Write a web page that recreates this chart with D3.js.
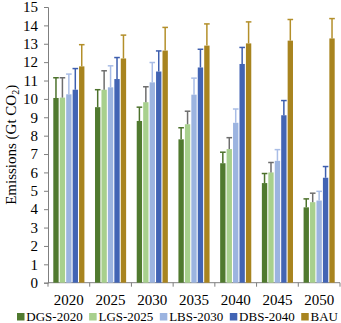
<!DOCTYPE html>
<html>
<head>
<meta charset="utf-8">
<script src="https://cdn.jsdelivr.net/npm/d3@7"></script>
<style>
  body { margin: 0; background: #fff; }
  svg { display: block; font-family: "Liberation Serif", "Times New Roman", serif; }
</style>
</head>
<body>
<div id="chart"></div>
<script>
// data
var years = ['2020', '2025', '2030', '2035', '2040', '2045', '2050'];
var seriesNames = ['DGS-2020', 'LGS-2025', 'LBS-2030', 'DBS-2040', 'BAU'];

var dgs = [10.05, 9.55, 8.8, 7.8, 6.5, 5.42, 4.1];
var lgs = [10.07, 10.5, 9.82, 8.62, 7.27, 6.0, 4.38];
var lbs = [10.25, 10.63, 10.9, 10.23, 8.7, 6.63, 4.47];
var dbs = [10.5, 11.08, 11.49, 11.71, 11.9, 9.11, 5.71];
var bau = [11.77, 12.2, 12.63, 12.9, 13.02, 13.17, 13.29];

var dgsErr = [1.1, 0.95, 0.75, 0.63, 0.6, 0.52, 0.46];
var lgsErr = [1.08, 1.03, 0.84, 0.71, 0.62, 0.54, 0.49];
var lbsErr = [1.1, 1.17, 1.08, 0.9, 0.75, 0.61, 0.5];
var dbsErr = [1.15, 1.17, 1.12, 0.99, 0.9, 0.8, 0.61];
var bauErr = [1.18, 1.27, 1.26, 1.18, 1.17, 1.15, 1.08];

var yTicks = d3.range(0, 16);

var values = [dgs, lgs, lbs, dbs, bau];
var errors = [dgsErr, lgsErr, lbsErr, dbsErr, bauErr];
var barColors = ['#507a2f', '#a8d08d', '#9cb4e0', '#4264b4', '#a8841f'];
var errColors = ['#4d722c', '#6e6e6e', '#a9bde6', '#3d5eae', '#b38f2a'];

var width = 341, height = 323;
var plotLeft = 48, plotRight = 340, plotTop = 7, plotBottom = 282.7;

var svg = d3.select('#chart').append('svg')
    .attr('width', width)
    .attr('height', height);

var x0 = d3.scaleBand()
    .domain(years)
    .range([plotLeft, plotRight])
    .paddingInner(0)
    .paddingOuter(0);

var x1 = d3.scaleBand()
    .domain(seriesNames)
    .range([5.3, x0.bandwidth() - 5.3])
    .paddingInner(0.17);

var y = d3.scaleLinear()
    .domain([0, 15])
    .range([plotBottom, plotTop]);

// y axis
var yAxis = d3.axisLeft(y)
    .tickValues(yTicks)
    .tickSize(4)
    .tickPadding(6)
    .tickFormat(d3.format('d'));

var gy = svg.append('g')
    .attr('transform', 'translate(' + plotLeft + ',0)')
    .call(yAxis);
gy.select('.domain').attr('stroke', '#7f7f7f');
gy.selectAll('.tick line').attr('stroke', '#7f7f7f');
gy.selectAll('.tick text')
    .attr('fill', '#000')
    .style('font-size', '15px')
    .style('font-family', '"Liberation Serif", serif');

// x axis: labels centred in groups, ticks on group boundaries
var xAxis = d3.axisBottom(x0)
    .tickSize(0)
    .tickPadding(12);

var gx = svg.append('g')
    .attr('transform', 'translate(0,' + plotBottom + ')')
    .call(xAxis);
gx.select('.domain').remove();
gx.selectAll('.tick text')
    .attr('fill', '#000')
    .style('font-size', '15px')
    .style('font-family', '"Liberation Serif", serif');

var bounds = years.map(function (d) { return x0(d); }).concat([x0.range()[1]]);
svg.append('line')
    .attr('x1', plotLeft).attr('x2', plotRight)
    .attr('y1', plotBottom).attr('y2', plotBottom)
    .attr('stroke', '#7f7f7f');
svg.selectAll('.xtick')
    .data(bounds)
    .enter().append('line')
      .attr('class', 'xtick')
      .attr('x1', function (d) { return d; })
      .attr('x2', function (d) { return d; })
      .attr('y1', plotBottom)
      .attr('y2', plotBottom + 4)
      .attr('stroke', '#7f7f7f');

// bars
var groups = svg.selectAll('.grp')
    .data(years)
    .enter().append('g')
      .attr('class', 'grp')
      .attr('transform', function (d) { return 'translate(' + x0(d) + ',0)'; });

groups.each(function (yr, i) {
  var g = d3.select(this);
  seriesNames.forEach(function (s, k) {
    var v = values[k][i];
    var e = errors[k][i];
    var bx = x1(s);
    var bw = x1.bandwidth();
    g.append('rect')
        .attr('x', bx)
        .attr('y', y(v))
        .attr('width', bw)
        .attr('height', y(0) - y(v))
        .attr('fill', barColors[k]);
    g.append('line')
        .attr('x1', bx + bw / 2).attr('x2', bx + bw / 2)
        .attr('y1', y(v)).attr('y2', y(v + e))
        .attr('stroke', errColors[k])
        .attr('stroke-width', 1.5);
    g.append('line')
        .attr('x1', bx + bw / 2 - 2.8).attr('x2', bx + bw / 2 + 2.8)
        .attr('y1', y(v + e)).attr('y2', y(v + e))
        .attr('stroke', errColors[k])
        .attr('stroke-width', 1.5);
  });
});

// y title
var title = svg.append('text')
    .attr('transform', 'translate(16,' + ((plotTop + plotBottom) / 2) + ') rotate(-90)')
    .attr('text-anchor', 'middle')
    .style('font-size', '15px')
    .attr('fill', '#000');
title.append('tspan').text('Emissions (Gt CO');
title.append('tspan').text('2').style('font-size', '10px').attr('dy', 3);
title.append('tspan').text(')').attr('dy', -3);

// legend
var legend = svg.append('g').attr('class', 'legend');
var lx = 17;
seriesNames.forEach(function (s, k) {
  legend.append('rect')
      .attr('x', lx).attr('y', 313)
      .attr('width', 7.5).attr('height', 7.5)
      .attr('fill', barColors[k]);
  var t = legend.append('text')
      .attr('x', lx + 9.3).attr('y', 321)
      .style('font-size', '13px')
      .attr('fill', '#000')
      .text(s);
  lx += 9.3 + t.node().getComputedTextLength() + 6.5;
});
</script>
</body>
</html>
